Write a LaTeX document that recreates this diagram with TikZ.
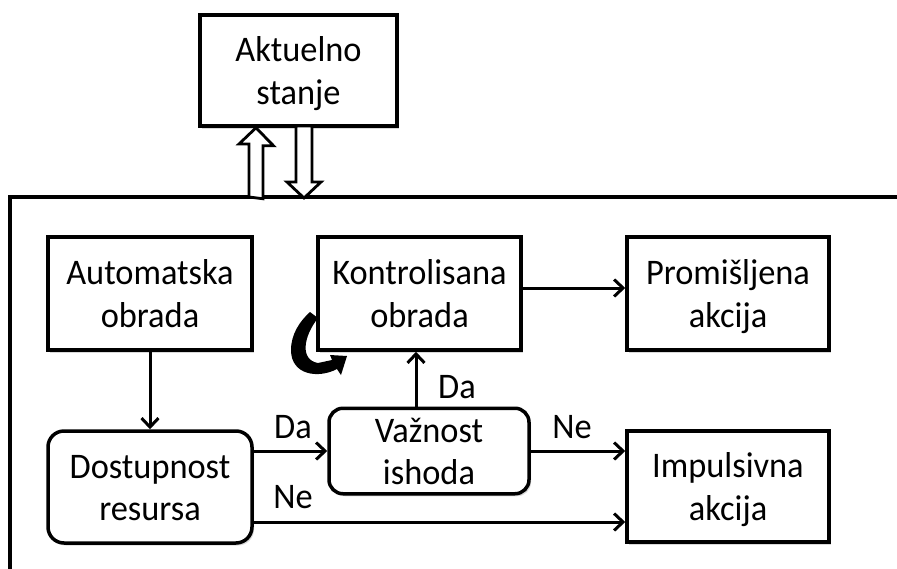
\documentclass[tikz,border=0pt]{standalone}
\usepackage{fontspec}
\setmainfont{Carlito}[FakeStretch=0.955]
\usetikzlibrary{arrows.meta,shadows}
\newcommand{\topst}{\rule{0pt}{34pt}}
\newcommand{\botst}{\rule[-9pt]{0pt}{9pt}}
\begin{document}
\begin{tikzpicture}[x=1pt,y=-1pt,
  box/.style={draw=black,line width=3.5pt,fill=white,align=center,inner sep=0pt,
    font=\fontsize{36}{42.5}\selectfont,
    drop shadow={shadow xshift=2pt,shadow yshift=-2.5pt,fill=black,opacity=0.15}},
  rbox/.style={box,rounded corners=16pt},
  lbl/.style={font=\fontsize{36}{42.5}\selectfont,inner sep=0pt},
  arr/.style={line width=3pt,-{Straight Barb[length=9pt,width=17pt,line width=3pt]}},
  hollow/.style={draw=black,line width=2.8pt,fill=white,line join=miter}]
\useasboundingbox (0,0) rectangle (897,568);
\fill[white] (0,0) rectangle (897,568);
% outer frame
\draw[line width=3.2pt] (10,570) -- (10,197) -- (899,197);
% nodes
\node[box,minimum width=197pt,minimum height=111pt] (akt) at (298.5,70.5) {\topst Aktuelno\\stanje\botst};
\node[box,minimum width=204pt,minimum height=113pt] (auto) at (150,293.5) {\topst Automatska\\obrada\botst};
\node[box,minimum width=203pt,minimum height=113pt] (kontr) at (419.5,293.5) {\topst Kontrolisana\\obrada\botst};
\node[box,minimum width=202pt,minimum height=113pt] (prom) at (728,293.5) {\topst Promišljena\\akcija\botst};
\node[rbox,minimum width=204pt,minimum height=112pt] (dost) at (150,487) {\topst Dostupnost\\resursa\botst};
\node[rbox,minimum width=200pt,minimum height=82pt,rounded corners=14pt] (vaz) at (429,451) {\topst Važnost\\ishoda\botst};
\node[box,minimum width=202pt,minimum height=111pt] (imp) at (728,486.5) {\topst Impulsivna\\akcija\botst};
% hollow block arrows between frame and Aktuelno stanje
\coordinate (upbase) at (256,197);
\coordinate (dnbase) at (304,198);
\draw[hollow] (upbase) ++(-7,0) -- ++(0,-53) -- ++(-10,0) -- (akt.south -| upbase) -- ++(17.5,18) -- ++(-10.5,0) -- ++(0,53) -- cycle;
\draw[hollow] (dnbase) -- ++(-17,-16) -- ++(9,0) -- ++(0,-56) -- ++(16,0) -- ++(0,56) -- ++(9,0) -- cycle;
% connectors
\draw[arr] (auto) -- (dost);
\draw[arr] (dost.east |- vaz.west) -- (vaz.west);
\draw[arr] (vaz.east) -- (vaz.east -| imp.west);
\draw[arr] ([yshift=-35pt]dost.east) -- ([yshift=-35pt]dost.east -| imp.west);
\draw[arr] ([xshift=-3.5pt]kontr.south |- vaz.north) -- ([xshift=-3.5pt]kontr.south);
\draw[arr] ([yshift=5.5pt]kontr.east) -- ([yshift=5.5pt]kontr.east -| prom.west);
% labels
\node[lbl] (da1) at (293,427) {Da};
\node[lbl] (ne1) at (572,427) {Ne};
\node[lbl] (ne2) at (293,497) {Ne};
\node[lbl] (da2) at (457,387) {Da};
% curved self-loop arrow at Kontrolisana obrada
\fill[black] (310,312) -- (318,318) .. controls (303,337) and (300,360) .. (318,363)
  -- (332,360) -- (330,355) -- (347,356) -- (341,375) -- (337,369)
  .. controls (318,379) and (291,375) .. (291,350)
  .. controls (291,334) and (300,321) .. (310,312) -- cycle;
\end{tikzpicture}
\end{document}
